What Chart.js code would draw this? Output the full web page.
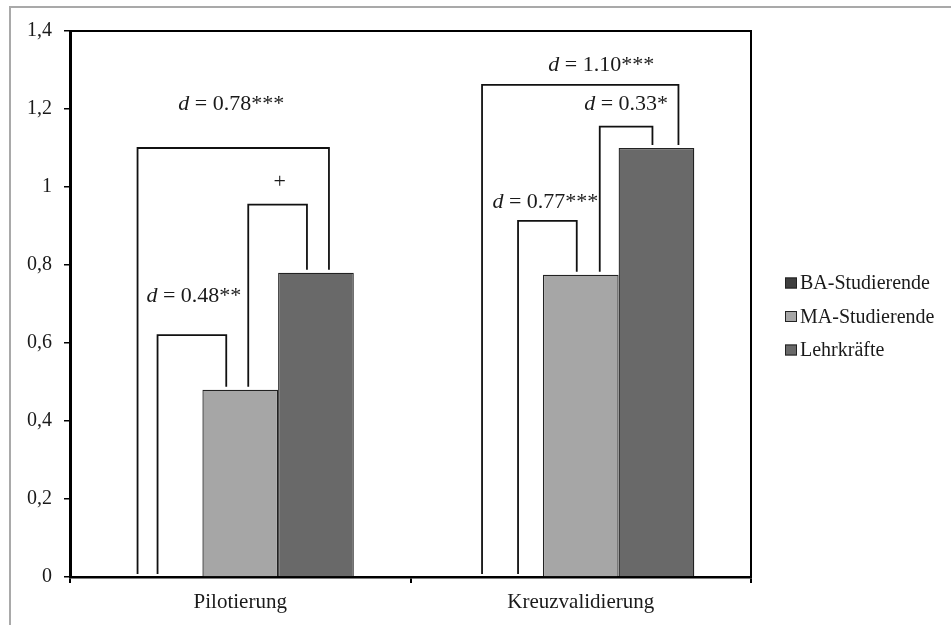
<!DOCTYPE html>
<html lang="de">
<head>
<meta charset="utf-8">
<title>Pilotierung / Kreuzvalidierung</title>
<script src="https://cdn.jsdelivr.net/npm/chart.js@4.4.1/dist/chart.umd.min.js"></script>
<style>
  html, body { margin: 0; padding: 0; background: #fff; overflow: hidden; }
  #frame {
    position: absolute; left: 9px; top: 6px; width: 980px; height: 660px;
    border: 2px solid #a9a9a9; box-sizing: border-box;
  }
  #wrap { position: absolute; left: 0; top: 0; width: 951px; height: 625px; }
</style>
</head>
<body>
<div id="frame"></div>
<div id="wrap"><canvas id="chart" width="951" height="625"></canvas></div>
<script>
// Balkendiagramm mit Signifikanz-Klammern (Cohens d) für zwei Stichproben

var categories = ['Pilotierung', 'Kreuzvalidierung'];
var seriesNames = ['BA-Studierende', 'MA-Studierende', 'Lehrkräfte'];
var baValues = [0, 0];
var maValues = [0.48, 0.775];
var lkValues = [0.78, 1.10];
var yTickLabels = ['0', '0,2', '0,4', '0,6', '0,8', '1', '1,2', '1,4'];

// Klammern: Kategorie, von Gruppe, zu Gruppe, Höhe der Querlinie, Beschriftung
var bracketCat = [0, 0, 0, 1, 1, 1];
var bracketFrom = [0, 1, 0, 0, 1, 0];
var bracketTo = [1, 2, 2, 1, 2, 2];
var bracketTop = [0.62, 0.955, 1.10, 0.913, 1.155, 1.262];
var bracketLabels = ['d = 0.48**', '+', 'd = 0.78***', 'd = 0.77***', 'd = 0.33*', 'd = 1.10***'];

// Layout der Klammern (Pixel): Beinversatz zur Balkenmitte, Textversatz
var legOffsets = [[-7, -14], [8, -9], [-27, 13], [13, -4], [19, -4], [-23, 22]];
var labelOffsets = [[2, 39], [2, 22], [-2, 44], [-2, 19], [0, 22], [21, 20]];

var fillColors = ['#3f3f3f', '#a6a6a6', '#696969'];
var FONT = '"Liberation Serif", "Times New Roman", serif';
var ANNO_SIZE = 22;

var bracketPlugin = {
  id: 'dBrackets',
  afterDatasetsDraw: function (chart) {
    var ctx = chart.ctx;
    var yScale = chart.scales.y;
    ctx.save();
    ctx.strokeStyle = '#111';
    ctx.lineWidth = 1.8;
    for (var i = 0; i < bracketCat.length; i++) {
      var c = bracketCat[i];
      var barA = chart.getDatasetMeta(bracketFrom[i]).data[c];
      var barB = chart.getDatasetMeta(bracketTo[i]).data[c];
      var xa = barA.x + legOffsets[i][0];
      var xb = barB.x + legOffsets[i][1];
      var yt = yScale.getPixelForValue(bracketTop[i]);
      ctx.beginPath();
      ctx.moveTo(xa, barA.y - 3);
      ctx.lineTo(xa, yt);
      ctx.lineTo(xb, yt);
      ctx.lineTo(xb, barB.y - 3);
      ctx.stroke();

      // Beschriftung, "d" kursiv
      var cx = (xa + xb) / 2 + labelOffsets[i][0];
      var cy = yt - labelOffsets[i][1];
      var txt = bracketLabels[i];
      ctx.fillStyle = '#1a1a1a';
      ctx.textBaseline = 'middle';
      ctx.textAlign = 'left';
      if (txt.indexOf('d ') === 0) {
        var rest = txt.substring(1);
        ctx.font = 'italic ' + ANNO_SIZE + 'px ' + FONT;
        var wd = ctx.measureText('d').width;
        ctx.font = ANNO_SIZE + 'px ' + FONT;
        var wr = ctx.measureText(rest).width;
        var x0 = cx - (wd + wr) / 2;
        ctx.font = 'italic ' + ANNO_SIZE + 'px ' + FONT;
        ctx.fillText('d', x0, cy);
        ctx.font = ANNO_SIZE + 'px ' + FONT;
        ctx.fillText(rest, x0 + wd, cy);
      } else {
        ctx.font = ANNO_SIZE + 'px ' + FONT;
        ctx.textAlign = 'center';
        ctx.fillText(txt, cx, cy);
      }
    }
    ctx.restore();
  },
  afterDraw: function (chart) {
    var ctx = chart.ctx;
    var a = chart.chartArea;
    ctx.save();
    // Rahmen oben und rechts
    ctx.strokeStyle = '#000';
    ctx.lineWidth = 2;
    ctx.beginPath();
    ctx.moveTo(a.left, a.top);
    ctx.lineTo(a.right, a.top);
    ctx.lineTo(a.right, a.bottom);
    ctx.stroke();

    // Legende
    var lx = a.right + 34;
    var ly = a.top + 252;
    ctx.font = '20px ' + FONT;
    ctx.textBaseline = 'middle';
    ctx.textAlign = 'left';
    for (var i = 0; i < seriesNames.length; i++) {
      var y = ly + i * 33.5;
      ctx.fillStyle = fillColors[i];
      ctx.fillRect(lx, y - 5.5, 12, 11);
      ctx.strokeStyle = '#222';
      ctx.lineWidth = 1;
      ctx.strokeRect(lx + 0.5, y - 5, 11, 10);
      ctx.fillStyle = '#1a1a1a';
      ctx.fillText(seriesNames[i], lx + 15, y + 1);
    }
    ctx.restore();
  }
};

var datasets = [baValues, maValues, lkValues].map(function (vals, i) {
  return {
    label: seriesNames[i],
    data: vals,
    backgroundColor: fillColors[i],
    borderColor: '#222',
    borderWidth: 1.3,
    borderSkipped: 'bottom',
    barPercentage: 1.0,
    categoryPercentage: 0.667
  };
});

new Chart(document.getElementById('chart'), {
  type: 'bar',
  data: { labels: categories, datasets: datasets },
  plugins: [bracketPlugin],
  options: {
    responsive: false,
    animation: false,
    layout: { padding: { top: 31, right: 200, bottom: 0, left: 0 } },
    scales: {
      x: {
        afterFit: function (scale) { scale.height = 48; },
        grid: { display: true, drawOnChartArea: false, drawTicks: true, tickLength: 6, color: '#000', lineWidth: 2, offset: true },
        border: { display: true, color: '#000', width: 2.5 },
        ticks: { color: '#1a1a1a', padding: 7, font: { family: FONT, size: 21 } }
      },
      y: {
        min: 0,
        max: 1.4,
        afterFit: function (scale) { scale.width = 70; },
        grid: { display: true, drawOnChartArea: false, drawTicks: true, tickLength: 6, color: '#000', lineWidth: 1.5 },
        border: { display: true, color: '#000', width: 3 },
        ticks: {
          stepSize: 0.2,
          padding: 12,
          color: '#1a1a1a',
          font: { family: FONT, size: 20 },
          callback: function (value, index) { return yTickLabels[index]; }
        }
      }
    },
    plugins: {
      legend: { display: false },
      tooltip: { enabled: false }
    }
  }
});
</script>
</body>
</html>
